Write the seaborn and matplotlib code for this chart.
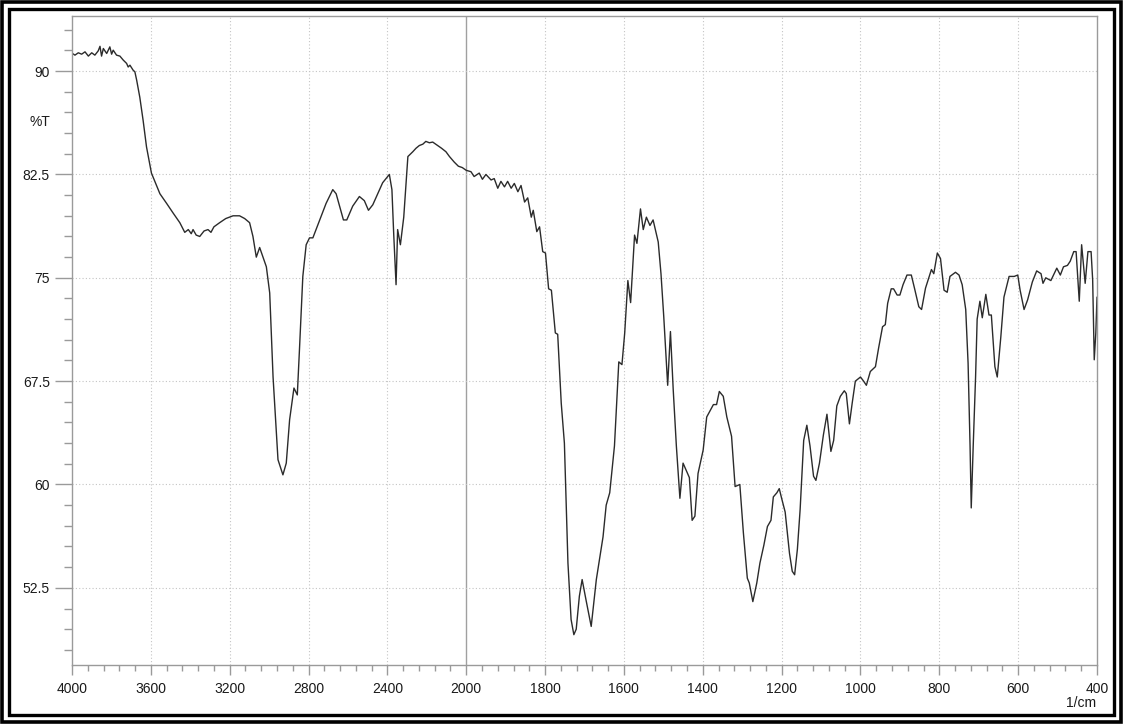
import numpy as np
import pandas as pd
import matplotlib
matplotlib.use("Agg")
import matplotlib.pyplot as plt
from matplotlib.patches import Rectangle
from matplotlib.ticker import FixedLocator, FixedFormatter
import seaborn as sns

# IR spectrum (wavenumber in 1/cm, transmittance in %T)
wavenumber = [
    4000, 3985, 3968, 3951, 3934, 3917, 3900, 3884, 3867, 3858, 3850, 3841, 3824, 3808,
    3799, 3791, 3774, 3757, 3740, 3723, 3715, 3706, 3690, 3681, 3672, 3656, 3639, 3622,
    3597, 3580, 3554, 3520, 3487, 3453, 3428, 3410, 3395, 3386, 3370, 3352, 3330, 3310,
    3295, 3280, 3251, 3220, 3183, 3150, 3124, 3099, 3082, 3065, 3048, 3014, 2997, 2980,
    2955, 2930, 2913, 2896, 2874, 2857, 2846, 2829, 2812, 2795, 2778, 2711, 2677, 2660,
    2623, 2606, 2576, 2542, 2517, 2496, 2474, 2424, 2390, 2377, 2368, 2356, 2348, 2334,
    2317, 2296, 2271, 2255, 2238, 2220, 2205, 2187, 2170, 2145, 2125, 2103, 2085, 2061,
    2040, 2020, 2000, 1988, 1980, 1967, 1959, 1950, 1937, 1929, 1920, 1912, 1903, 1895,
    1886, 1878, 1869, 1861, 1852, 1844, 1835, 1830, 1821, 1814, 1806, 1799, 1791, 1784,
    1774, 1768, 1759, 1751, 1742, 1734, 1727, 1721, 1713, 1706, 1696, 1683, 1670, 1653,
    1645, 1636, 1624, 1613, 1605, 1598, 1590, 1583, 1573, 1567, 1558, 1551, 1543, 1534,
    1526, 1513, 1506, 1499, 1489, 1482, 1475, 1467, 1458, 1450, 1434, 1427, 1420, 1412,
    1399, 1390, 1373, 1365, 1358, 1348, 1339, 1327, 1318, 1306, 1297, 1287, 1282, 1273,
    1263, 1255, 1245, 1236, 1227, 1221, 1212, 1206, 1200, 1191, 1180, 1173, 1167, 1160,
    1153, 1144, 1136, 1128, 1119, 1113, 1104, 1094, 1085, 1075, 1068, 1060, 1051, 1041,
    1036, 1028, 1021, 1013, 1000, 992, 985, 975, 962, 954, 944, 937, 931, 922,
    916, 907, 900, 892, 882, 871, 863, 852, 845, 835, 820, 814, 805, 797,
    788, 780, 773, 759, 750, 742, 733, 727, 722, 719, 714, 708, 704, 697,
    691, 682, 674, 668, 659, 653, 644, 636, 623, 610, 601, 595, 585, 576,
    564, 553, 542, 537, 530, 517, 502, 493, 485, 475, 468, 459, 453, 445,
    439, 430, 423, 415, 411, 407, 403, 400,
]
transmittance = [
    91.3, 91.16, 91.33, 91.23, 91.4, 91.09, 91.33, 91.16, 91.47, 91.8, 91.09, 91.64, 91.28, 91.76,
    91.23, 91.52, 91.16, 91.09, 90.8, 90.56, 90.3, 90.43, 90.07, 89.95, 89.35, 88.1, 86.4, 84.5,
    82.6, 82.0, 81.1, 80.4, 79.7, 79.0, 78.3, 78.5, 78.2, 78.5, 78.1, 78.0, 78.4, 78.5,
    78.3, 78.7, 79.0, 79.3, 79.5, 79.5, 79.3, 79.0, 78.0, 76.5, 77.2, 75.8, 73.9, 67.8,
    61.8, 60.7, 61.55, 64.7, 67.0, 66.5, 69.8, 75.1, 77.4, 77.9, 77.9, 80.4, 81.4, 81.1,
    79.2, 79.2, 80.2, 80.9, 80.6, 79.9, 80.3, 81.9, 82.5, 81.4, 78.2, 74.5, 78.5, 77.4,
    79.4, 83.8, 84.15, 84.4, 84.6, 84.7, 84.9, 84.8, 84.85, 84.6, 84.4, 84.15, 83.8, 83.4,
    83.1, 83.0, 82.8, 82.7, 82.35, 82.6, 82.15, 82.5, 82.1, 82.2, 81.5, 82.0, 81.6, 82.0,
    81.5, 81.85, 81.25, 81.7, 80.5, 80.8, 79.4, 79.9, 78.35, 78.7, 76.9, 76.8, 74.2, 74.1,
    71.0, 70.9, 65.9, 63.0, 54.3, 50.2, 49.1, 49.5, 51.9, 53.1, 51.6, 49.7, 53.1, 56.2,
    58.5, 59.4, 62.8, 68.9, 68.7, 71.0, 74.8, 73.2, 78.1, 77.5, 80.0, 78.5, 79.4, 78.8,
    79.2, 77.6, 75.3, 72.2, 67.2, 71.1, 66.9, 62.8, 59.0, 61.55, 60.5, 57.4, 57.7, 60.8,
    62.5, 64.9, 65.8, 65.8, 66.75, 66.4, 64.9, 63.5, 59.85, 60.0, 56.5, 53.2, 52.85, 51.5,
    52.85, 54.3, 55.6, 56.95, 57.4, 59.1, 59.4, 59.7, 59.0, 58.0, 55.0, 53.7, 53.45, 55.3,
    58.2, 63.2, 64.3, 62.8, 60.6, 60.3, 61.55, 63.6, 65.1, 62.4, 63.2, 65.7, 66.4, 66.8,
    66.6, 64.4, 65.9, 67.5, 67.8, 67.5, 67.2, 68.2, 68.55, 69.9, 71.45, 71.6, 73.15, 74.2,
    74.2, 73.75, 73.75, 74.5, 75.2, 75.2, 74.25, 72.9, 72.7, 74.25, 75.6, 75.3, 76.8, 76.4,
    74.1, 73.95, 75.1, 75.4, 75.2, 74.5, 72.7, 68.8, 62.8, 58.3, 62.8, 67.8, 72.0, 73.3,
    72.1, 73.8, 72.3, 72.3, 68.55, 67.8, 70.7, 73.6, 75.1, 75.1, 75.2, 74.1, 72.7, 73.4,
    74.7, 75.5, 75.3, 74.6, 75.0, 74.8, 75.7, 75.2, 75.8, 75.9, 76.2, 76.9, 76.9, 73.3,
    77.4, 74.6, 76.9, 76.9, 74.85, 69.05, 71.0, 73.6,
]

x_major = [4000, 3600, 3200, 2800, 2400, 2000, 1800, 1600, 1400, 1200, 1000, 800, 600, 400]
y_major = [52.5, 60, 67.5, 75, 82.5, 90]
y_labels = ["52.5", "60", "67.5", "75", "82.5", "90"]


# spectrometer style x axis: half the scale above 2000 1/cm
def fwd(w):
    w = np.asarray(w, dtype=float)
    return np.where(w <= 2000, 2 * w, w + 2000)


def inv(u):
    u = np.asarray(u, dtype=float)
    return np.where(u <= 4000, u / 2, u - 2000)


df = pd.DataFrame({"wavenumber": wavenumber, "T": transmittance})

sns.set_style("white")
plt.rcParams["font.family"] = ["Liberation Sans", "DejaVu Sans"]

fig = plt.figure(figsize=(11.23, 7.24), dpi=100)
ax = fig.add_axes([72 / 1123, 59 / 724, 1025 / 1123, 649 / 724])

sns.lineplot(data=df, x="wavenumber", y="T", ax=ax, sort=False, estimator=None,
             color="#2b2b2b", linewidth=1.0)

ax.set_xscale("function", functions=(fwd, inv))
ax.set_xlim(4000, 400)
ax.set_ylim(46.9, 94)

grey = "#9a9a9a"
ax.xaxis.set_major_locator(FixedLocator(x_major))
ax.xaxis.set_major_formatter(FixedFormatter([str(v) for v in x_major]))
x_minor = [v for v in list(range(2080, 4000, 80)) + list(range(440, 2000, 40)) if v not in x_major]
ax.xaxis.set_minor_locator(FixedLocator(x_minor))
ax.yaxis.set_major_locator(FixedLocator(y_major))
ax.yaxis.set_major_formatter(FixedFormatter(y_labels))
y_minor = [v for v in np.arange(48, 94, 1.5) if not any(abs(v - m) < 1e-6 for m in y_major)]
ax.yaxis.set_minor_locator(FixedLocator(y_minor))

ax.tick_params(axis="x", which="major", length=7, width=1, color=grey, labelsize=10,
               labelcolor="#1a1a1a", pad=5, direction="out", bottom=True)
ax.tick_params(axis="x", which="minor", length=4, width=1, color=grey, direction="out", bottom=True)
ax.tick_params(axis="y", which="major", length=12, width=1, color=grey, labelsize=10,
               labelcolor="#1a1a1a", pad=4, direction="out", left=True)
ax.tick_params(axis="y", which="minor", length=6, width=1, color=grey, direction="out", left=True)

for s in ax.spines.values():
    s.set_color(grey)
    s.set_linewidth(1)

for v in x_major[1:-1]:
    if v == 2000:
        ax.axvline(v, color="#a0a0a0", linewidth=1.0, zorder=0)
    else:
        ax.axvline(v, color="#c4c4c4", linewidth=0.8, linestyle=(0, (1, 2)), zorder=0)
for v in y_major:
    ax.axhline(v, color="#c4c4c4", linewidth=0.8, linestyle=(0, (1, 2)), zorder=0)

ax.set_xlabel("")
ax.set_ylabel("")
fig.text(40 / 1123, 1 - 122 / 724, "%T", ha="center", va="center", fontsize=10, color="#1a1a1a")
fig.text(1096 / 1123, 1 - 703 / 724, "1/cm", ha="right", va="center", fontsize=10, color="#1a1a1a")

# double black frame around the whole printout
W, H = 1123, 724
fig.patches.append(Rectangle((1.75 / W, 1.75 / H), 1 - 3.5 / W, 1 - 3.5 / H, transform=fig.transFigure,
                             fill=False, edgecolor="black", linewidth=2.6))
fig.patches.append(Rectangle((8.8 / W, 8.8 / H), 1 - 17.6 / W, 1 - 17.6 / H, transform=fig.transFigure,
                             fill=False, edgecolor="black", linewidth=2.4))

fig.savefig("out.png", dpi=100)
